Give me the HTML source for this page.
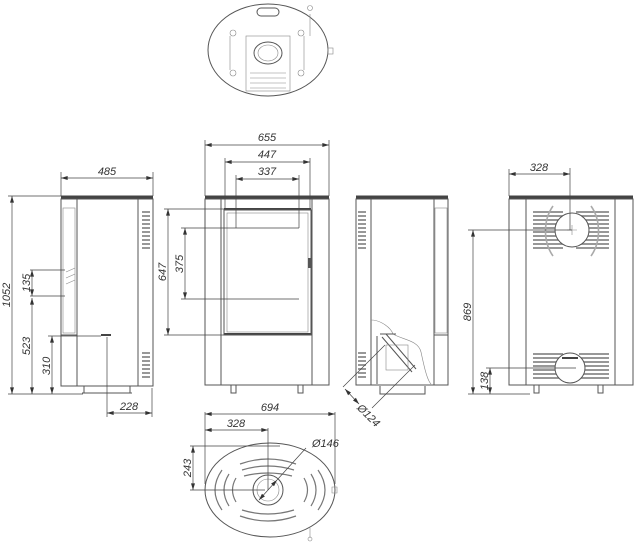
<!DOCTYPE html>
<html><head><meta charset="utf-8"><style>
html,body{margin:0;padding:0;background:#fff;width:640px;height:544px;overflow:hidden}
svg{display:block}
text{font-family:"Liberation Sans",sans-serif;font-size:11px;font-style:italic;fill:#333}
.l{stroke:#555;stroke-width:1;fill:none}
.t{stroke:#888;stroke-width:0.6;fill:none}
.d{stroke:#444;stroke-width:0.7;fill:none}
.h{stroke:#444;stroke-width:3;fill:none}
.v{stroke:#777;stroke-width:1.6;fill:none}
</style></head><body>
<svg width="640" height="544" viewBox="0 0 640 544" xmlns="http://www.w3.org/2000/svg">
<defs>
<marker id="a" viewBox="0 0 10 6" refX="10" refY="3" markerWidth="8" markerHeight="4" orient="auto-start-reverse" markerUnits="userSpaceOnUse"><path d="M0,0L10,3L0,6z" fill="#333"/></marker>
</defs>

<!-- TOP OVAL -->
<ellipse cx="268" cy="50" rx="60" ry="46" class="l"/>
<rect x="257" y="8" width="22" height="8" rx="4" class="l"/>
<rect x="246" y="36" width="44" height="55" class="t"/>
<ellipse cx="268" cy="53" rx="14" ry="11" class="l"/>
<ellipse cx="268" cy="53" rx="10" ry="8" class="t"/>
<path d="M250 73h36M250 78h36M250 83h36M250 88h36" class="t"/>
<circle cx="233" cy="33" r="3" class="t"/><circle cx="233" cy="73" r="3" class="t"/>
<circle cx="301" cy="33" r="3" class="t"/><circle cx="301" cy="73" r="3" class="t"/>
<path d="M230 36v34M304 36v34" class="t"/>
<path d="M310 14v22" class="t"/><circle cx="310" cy="8" r="2.5" class="t"/>
<rect x="328" y="48" width="5" height="6" class="t"/>

<!-- LEFT SIDE VIEW -->
<path d="M61 197h92" class="h"/>
<rect x="61" y="199" width="92" height="187" class="l"/>
<path d="M77 199v187M138 199v187" class="l"/>
<rect x="63" y="208" width="12" height="125" class="t"/>
<path d="M61 335h16" class="l"/>
<path d="M66 272l9-4M66 278l9-4M66 284l9-4" class="t"/>
<path d="M142 212h8M142 216h8M142 220h8M142 224h8M142 228h8M142 232h8M142 236h8M142 240h8M142 244h8M142 248h8" class="v"/>
<path d="M142 353h8M142 357h8M142 361h8M142 365h8M142 369h8M142 373h8M142 377h8" class="v"/>
<path d="M84 386v7h46v-7M82 393h6M126 393h6" class="l"/>
<path d="M101 335h10" class="h" style="stroke-width:2"/>
<!-- dims left -->
<path d="M61 196v-24M153 196v-24" class="d"/>
<line x1="61" y1="178" x2="153" y2="178" class="d" marker-start="url(#a)" marker-end="url(#a)"/>
<text x="107" y="175" text-anchor="middle">485</text>
<path d="M8 196h53M8 394h75" class="d"/>
<line x1="12" y1="196" x2="12" y2="394" class="d" marker-start="url(#a)" marker-end="url(#a)"/>
<text transform="translate(10,295) rotate(-90)" text-anchor="middle">1052</text>
<path d="M30 270h35M30 296h35" class="d"/>
<line x1="32" y1="270" x2="32" y2="296" class="d" marker-start="url(#a)" marker-end="url(#a)"/>
<text transform="translate(30,283) rotate(-90)" text-anchor="middle">135</text>
<line x1="32" y1="298" x2="32" y2="394" class="d" marker-start="url(#a)" marker-end="url(#a)"/>
<text transform="translate(30,346) rotate(-90)" text-anchor="middle">523</text>
<path d="M48 336h53" class="d"/>
<line x1="52" y1="336" x2="52" y2="394" class="d" marker-start="url(#a)" marker-end="url(#a)"/>
<text transform="translate(50,366) rotate(-90)" text-anchor="middle">310</text>
<path d="M107 337v80M152 388v29" class="d"/>
<line x1="107" y1="413" x2="152" y2="413" class="d" marker-start="url(#a)" marker-end="url(#a)"/>
<text x="129" y="410" text-anchor="middle">228</text>

<!-- FRONT VIEW -->
<path d="M205 197h124" class="h"/>
<rect x="205" y="199" width="124" height="186" class="l"/>
<path d="M221 199v186M312 199v186" class="l"/>
<path d="M224 209h87" class="h" style="stroke-width:2"/>
<path d="M224 334h87" class="h" style="stroke-width:2"/>
<rect x="224" y="210" width="87" height="125" class="l"/>
<rect x="227" y="213" width="81" height="119" class="t"/>
<rect x="308" y="258" width="3" height="10" fill="#555"/>
<path d="M231 385v8h5v-8M298 385v8h5v-8" class="l"/>
<!-- front dims -->
<path d="M205 196v-56M329 196v-56M225 209v-51M310 209v-51M236 228v-53M299 228v-53" class="d"/>
<line x1="205" y1="145" x2="329" y2="145" class="d" marker-start="url(#a)" marker-end="url(#a)"/>
<text x="267" y="141" text-anchor="middle">655</text>
<line x1="225" y1="162" x2="310" y2="162" class="d" marker-start="url(#a)" marker-end="url(#a)"/>
<text x="267" y="158" text-anchor="middle">447</text>
<line x1="236" y1="179" x2="299" y2="179" class="d" marker-start="url(#a)" marker-end="url(#a)"/>
<text x="267" y="175" text-anchor="middle">337</text>
<path d="M164 209h60M164 335h60M181 228h118M181 299h118" class="d"/>
<line x1="168" y1="209" x2="168" y2="335" class="d" marker-start="url(#a)" marker-end="url(#a)"/>
<text transform="translate(166,272) rotate(-90)" text-anchor="middle">647</text>
<line x1="185" y1="228" x2="185" y2="299" class="d" marker-start="url(#a)" marker-end="url(#a)"/>
<text transform="translate(183,264) rotate(-90)" text-anchor="middle">375</text>

<!-- SIDE VIEW 2 -->
<path d="M356 197h92" class="h"/>
<rect x="356" y="199" width="92" height="186" class="l"/>
<path d="M371 199v186M434 199v186" class="l"/>
<rect x="435" y="208" width="12" height="125" class="t"/>
<path d="M434 335h14" class="l"/>
<path d="M358 212h8M358 216h8M358 220h8M358 224h8M358 228h8M358 232h8M358 236h8M358 240h8M358 244h8M358 248h8" class="v"/>
<path d="M358 353h8M358 357h8M358 361h8M358 365h8M358 369h8M358 373h8M358 377h8" class="v"/>
<path d="M371 320c10 0 20 8 22 14c10 6 25 6 28 18c3 14 6 28 10 32" class="t"/>
<path d="M380 334h16M382 337l30 35M386 334l30 35" class="l"/>
<rect x="386" y="345" width="22" height="25" class="t"/>
<path d="M377 336v48" class="l"/>
<path d="M380 386v8h45v-8" class="l"/>
<path d="M343 387l42-42M372 408l43-43" class="d"/>
<line x1="345" y1="389" x2="359" y2="404" class="d" marker-start="url(#a)" marker-end="url(#a)"/>
<text transform="translate(366,418) rotate(45)" text-anchor="middle">Ø124</text>

<!-- REAR VIEW -->
<path d="M509 197h124" class="h"/>
<rect x="509" y="199" width="124" height="186" class="l"/>
<path d="M526 199v186M615 199v186" class="l"/>
<path d="M533 212h30M533 216h30M533 220h30M533 224h30M533 228h30M533 232h30M533 236h30M533 240h30M533 244h30M533 248h30M576 212h33M576 216h33M576 220h33M576 224h33M576 228h33M576 232h33M576 236h33M576 240h33M576 244h33M576 248h33" class="v"/>
<circle cx="572" cy="230" r="17" fill="#fff" stroke="#555" stroke-width="1"/>
<path d="M553 206c-10 14-10 36 0 50M591 206c10 14 10 36 0 50" class="v" style="stroke:#aaa"/>
<path d="M533 354h30M533 358h30M533 362h30M533 366h30M533 370h30M533 374h30M533 378h30M579 354h30M579 358h30M579 362h30M579 366h30M579 370h30M579 374h30M579 378h30" class="v"/>
<circle cx="570" cy="368" r="15" fill="#fff" stroke="#555" stroke-width="1"/>
<path d="M562 358h16" class="h" style="stroke-width:2"/>
<path d="M534 385v8h5v-8M598 385v8h5v-8" class="l"/>
<path d="M572 225v10M567 230h10" class="t"/>
<path d="M509 196v-27M570 168v62M468 230h104M486 368h90M468 394h62" class="d"/>
<line x1="509" y1="174" x2="570" y2="174" class="d" marker-start="url(#a)" marker-end="url(#a)"/>
<text x="539" y="171" text-anchor="middle">328</text>
<line x1="473" y1="230" x2="473" y2="394" class="d" marker-start="url(#a)" marker-end="url(#a)"/>
<text transform="translate(471,312) rotate(-90)" text-anchor="middle">869</text>
<line x1="490" y1="368" x2="490" y2="394" class="d" marker-start="url(#a)" marker-end="url(#a)"/>
<text transform="translate(488,381) rotate(-90)" text-anchor="middle">138</text>

<!-- BOTTOM OVAL -->
<ellipse cx="270" cy="490" rx="65" ry="47" class="l"/>
<circle cx="268" cy="490" r="15" class="l"/>
<circle cx="268" cy="490" r="11" class="t"/>
<path d="M240 464q28-10 56 0M242 470q26-8 52 0M244 476q24-6 48 0M240 516q28 10 56 0M242 510q26 8 52 0" class="v" style="stroke-width:1.2"/>
<path d="M222 470q-14 20 0 40M229 474q-10 16 0 32M236 478q-7 12 0 24M318 470q14 20 0 40M311 474q10 16 0 32M304 478q7 12 0 24" class="v" style="stroke-width:1.2"/>
<path d="M332 487v6h5v-6z" class="t"/>
<path d="M310 528v10" class="t"/><circle cx="310" cy="539" r="2" class="t"/>
<path d="M205 484v-72M335 484v-72M268 490v-62M190 446h90M190 490h75" class="d"/>
<line x1="205" y1="414" x2="335" y2="414" class="d" marker-start="url(#a)" marker-end="url(#a)"/>
<text x="270" y="411" text-anchor="middle">694</text>
<line x1="205" y1="430" x2="268" y2="430" class="d" marker-start="url(#a)" marker-end="url(#a)"/>
<text x="236" y="427" text-anchor="middle">328</text>
<line x1="193" y1="446" x2="193" y2="490" class="d" marker-start="url(#a)" marker-end="url(#a)"/>
<text transform="translate(191,468) rotate(-90)" text-anchor="middle">243</text>
<line x1="259" y1="500" x2="277" y2="480" class="d" marker-start="url(#a)" marker-end="url(#a)"/>
<path d="M277 480l29-32" class="d"/>
<text x="312" y="447">Ø146</text>
</svg>
</body></html>
